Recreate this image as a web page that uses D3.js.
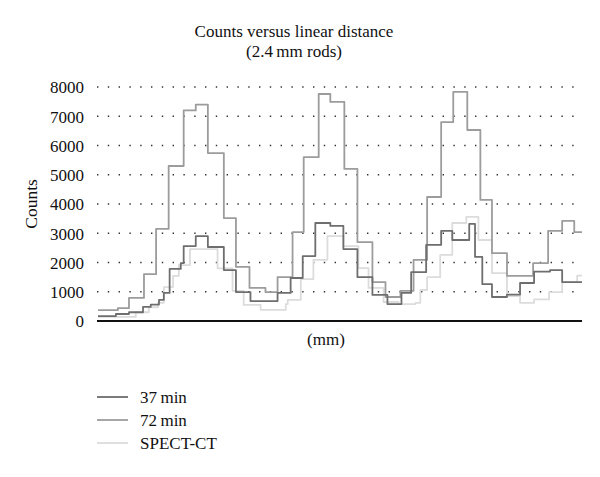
<!DOCTYPE html>
<html>
<head>
<meta charset="utf-8">
<script src="https://cdn.jsdelivr.net/npm/d3@7"></script>
<style>
  html, body { margin: 0; padding: 0; background: #fff; }
  svg { display: block; }
  text { font-family: "Liberation Serif", "DejaVu Serif", serif; fill: #111; }
</style>
</head>
<body>
<svg id="chart" width="600" height="477"></svg>
<script>
// ---- data (distance in arbitrary units 0..100, counts) ----
const distances37 = [0, 3.7, 6.4, 9.3, 10.9, 12.6, 13.6, 14.8, 17.1, 17.7, 20.2, 22.7, 26.0, 28.5, 31.5, 37.1, 39.8, 42.3, 44.9, 48.0, 50.7, 53.6, 56.7, 59.8, 62.7, 64.7, 67.8, 70.9, 73.2, 76.7, 77.9, 79.4, 81.4, 84.5, 87.2, 90.1, 93.4, 95.9, 98.4, 100];
const counts37    = [170, 240, 300, 480, 560, 720, 960, 1780, 1980, 2560, 2900, 2530, 1740, 990, 680, 960, 1470, 2220, 3350, 3250, 2460, 1500, 890, 580, 960, 1670, 2600, 3080, 2770, 3320, 2190, 1260, 820, 900, 1300, 1690, 1740, 1330, 1330, 1330];

const distances72 = [0, 4.1, 6.4, 9.5, 12.0, 14.6, 17.7, 20.2, 22.7, 26.0, 28.5, 31.3, 34.6, 37.1, 40.2, 42.5, 45.6, 48.0, 50.9, 53.6, 56.7, 59.4, 62.5, 65.2, 68.0, 70.9, 73.4, 76.3, 79.0, 81.4, 84.5, 89.9, 93.0, 95.9, 98.4, 100];
const counts72    = [370, 440, 790, 1600, 3150, 5300, 7200, 7400, 5740, 3520, 1850, 1130, 990, 1500, 3040, 5600, 7760, 7490, 5200, 2700, 1330, 820, 1030, 2090, 4240, 6800, 7830, 6530, 4140, 2320, 1540, 1980, 3080, 3420, 3040, 3040];

const distancesCT = [0, 7.8, 10.5, 12.4, 13.6, 15.5, 16.7, 19.0, 24.7, 27.8, 30.1, 33.6, 38.8, 39.2, 41.9, 44.5, 47.4, 50.7, 53.8, 55.9, 59.0, 62.1, 65.6, 66.6, 68.0, 70.7, 73.2, 76.1, 78.6, 81.4, 84.5, 87.2, 90.1, 93.2, 95.9, 99.0, 100];
const countsCT    = [140, 300, 470, 620, 1160, 1540, 1910, 2460, 1800, 1030, 550, 380, 580, 720, 1430, 2090, 2900, 2560, 1810, 1130, 650, 580, 620, 1060, 1500, 2260, 3350, 3560, 2770, 1640, 850, 620, 740, 990, 1330, 1550, 1550];

const yTicks = [0, 1000, 2000, 3000, 4000, 5000, 6000, 7000, 8000];
const seriesNames = ["37 min", "72 min", "SPECT-CT"];
const seriesColors = ["#6e6e6e", "#9c9c9c", "#dcdcdc"];

const series = [
  { name: seriesNames[0], color: seriesColors[0], pts: distances37.map((d, i) => [d, counts37[i]]) },
  { name: seriesNames[1], color: seriesColors[1], pts: distances72.map((d, i) => [d, counts72[i]]) },
  { name: seriesNames[2], color: seriesColors[2], pts: distancesCT.map((d, i) => [d, countsCT[i]]) }
];

// ---- layout ----
const svg = d3.select("#chart");
const plot = { left: 97, right: 582, top: 87, bottom: 321 };

const x = d3.scaleLinear().domain([0, 100]).range([plot.left + 1, plot.right]);
const y = d3.scaleLinear().domain([0, 8000]).range([plot.bottom, plot.top]);

// title
svg.append("text").attr("x", 294).attr("y", 37).attr("text-anchor", "middle")
  .style("font-size", "17px").text("Counts versus linear distance");
svg.append("text").attr("x", 294).attr("y", 57).attr("text-anchor", "middle")
  .style("font-size", "17px").text("(2.4\u2009mm rods)");

// gridlines (dotted)
svg.append("g").selectAll("line").data(yTicks.filter(d => d > 0)).join("line")
  .attr("x1", plot.left).attr("x2", plot.right)
  .attr("y1", d => y(d)).attr("y2", d => y(d))
  .attr("stroke", "#333").attr("stroke-width", 1.6)
  .attr("stroke-dasharray", "1.4,9.4");

// y axis labels
const yAxis = d3.axisLeft(y).tickValues(yTicks).tickSize(0).tickPadding(0).tickFormat(d3.format("d"));
const gy = svg.append("g").attr("transform", `translate(${plot.left - 13},0)`).call(yAxis);
gy.select(".domain").remove();
gy.selectAll("text").style("font-size", "17px").style("font-family", "'Liberation Serif', serif").attr("fill", "#111").attr("dy", "0.34em");

// y axis title
svg.append("text").attr("transform", "translate(37,204) rotate(-90)")
  .attr("text-anchor", "middle").style("font-size", "17.5px").text("Counts");

// lines
const line = d3.line().x(d => x(d[0])).y(d => y(d[1])).curve(d3.curveStepAfter);
const order = [2, 1, 0];
order.forEach(i => {
  svg.append("path").datum(series[i].pts)
    .attr("fill", "none").attr("stroke", series[i].color)
    .attr("stroke-width", 1.8).attr("stroke-linejoin", "round")
    .attr("d", line);
});

// x axis baseline
svg.append("line").attr("x1", plot.left).attr("x2", plot.right)
  .attr("y1", plot.bottom).attr("y2", plot.bottom)
  .attr("stroke", "#111").attr("stroke-width", 1.8);

// x axis title
svg.append("text").attr("x", 326).attr("y", 345).attr("text-anchor", "middle")
  .style("font-size", "17px").text("(mm)");

// legend
const legY = [397, 420, 443];
series.forEach((s, i) => {
  svg.append("line").attr("x1", 97).attr("x2", 128)
    .attr("y1", legY[i]).attr("y2", legY[i])
    .attr("stroke", s.color).attr("stroke-width", 1.8);
  svg.append("text").attr("x", 140).attr("y", legY[i]).attr("dy", "0.35em")
    .style("font-size", "17px").text(s.name.replace(" ", "\u2009"));
});
</script>
</body>
</html>
